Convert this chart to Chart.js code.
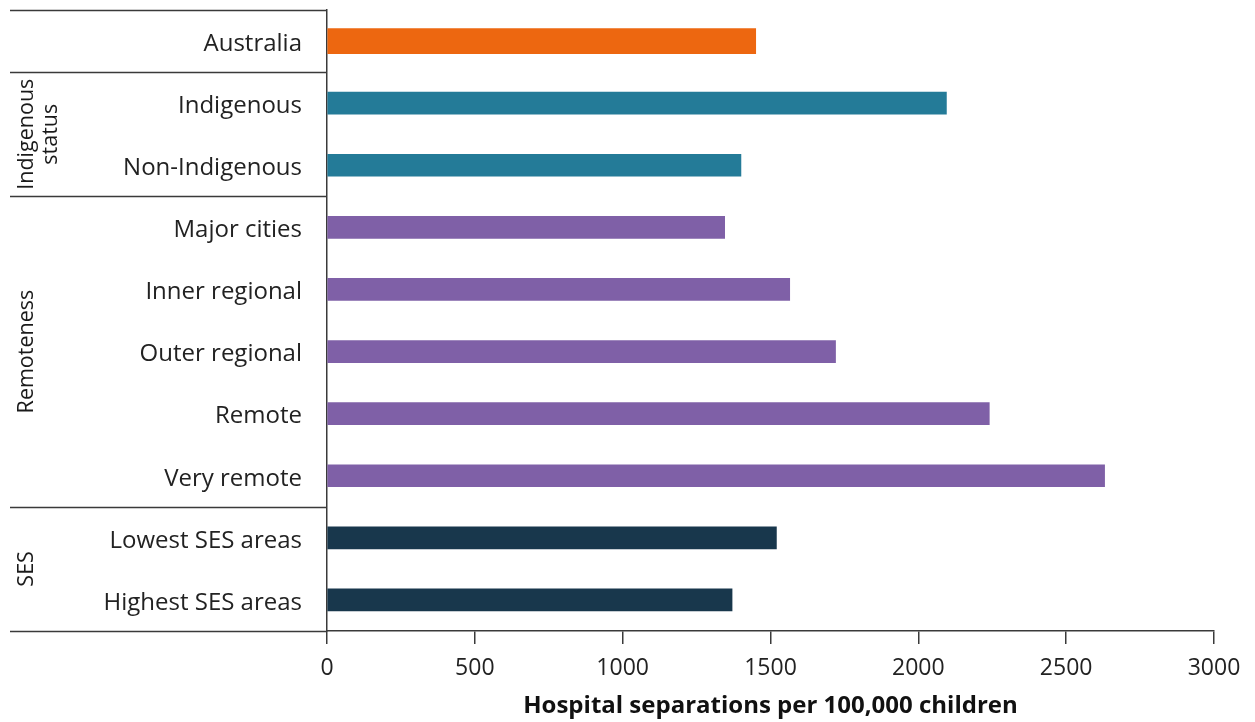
<!DOCTYPE html>
<html>
<head>
<meta charset="utf-8">
<script src="https://cdn.jsdelivr.net/npm/chart.js"></script>
<style>
  body { margin: 0; background: #fff; }
  #wrap { width: 1255px; height: 722px; position: relative; }
</style>
</head>
<body>
<div id="wrap"><canvas id="sep-chart"></canvas></div>
<script>
// hospital separations per 100,000 children, by population group

const categories = [
  "Australia", "Indigenous", "Non-Indigenous", "Major cities", "Inner regional",
  "Outer regional", "Remote", "Very remote", "Lowest SES areas", "Highest SES areas"
];
const rates = [1450, 2095, 1400, 1345, 1565, 1720, 2240, 2630, 1520, 1370];
const barColours = [
  "#ed6710", "#247b98", "#247b98", "#7f60a7", "#7f60a7",
  "#7f60a7", "#7f60a7", "#7f60a7", "#18374c", "#18374c"
];
const xTicks = [0, 500, 1000, 1500, 2000, 2500, 3000];
const axisTitle = "Hospital separations per 100,000 children";

// group brackets on the left: [label lines, first index, last index]
const groups = [
  [["Indigenous", "status"], 1, 2],
  [["Remoteness"], 3, 7],
  [["SES"], 8, 9]
];
const boundaries = [0, 1, 3, 8, 10];

const lineColour = "#3a3a3a";
const font = "'Open Sans', 'Noto Sans', sans-serif";

const groupLines = {
  id: "groupLines",
  afterDraw(chart) {
    const { ctx, chartArea, scales: { y } } = chart;
    ctx.save();
    ctx.strokeStyle = lineColour;
    ctx.lineWidth = 1.5;
    boundaries.forEach(b => {
      const py = Math.round(y.getPixelForValue(b - 0.5)) + 0.5;
      ctx.beginPath();
      ctx.moveTo(10, py);
      ctx.lineTo(chartArea.left, py);
      ctx.stroke();
    });

    ctx.fillStyle = "#1a1a1a";
    ctx.font = "21.5px " + font;
    ctx.textAlign = "center";
    ctx.textBaseline = "middle";
    groups.forEach(([lines, a, b]) => {
      const cy = (y.getPixelForValue(a - 0.5) + y.getPixelForValue(b + 0.5)) / 2;
      lines.forEach((txt, i) => {
        ctx.save();
        ctx.translate(27 + i * 24, cy);
        ctx.rotate(-Math.PI / 2);
        ctx.fillText(txt, 0, 0);
        ctx.restore();
      });
    });
    ctx.restore();
  }
};

const firstOnly = rates.map((v, i) => (i === 0 ? v : null));
const restOnly = rates.map((v, i) => (i === 0 ? null : v));

new Chart(document.getElementById("sep-chart"), {
  type: "bar",
  data: {
    labels: categories,
    datasets: [
      { data: firstOnly, backgroundColor: barColours, barThickness: 25 },
      { data: restOnly, backgroundColor: barColours, barThickness: 22 }
    ]
  },
  options: {
    indexAxis: "y",
    responsive: true,
    maintainAspectRatio: false,
    animation: false,
    layout: { padding: { top: 10, right: 41, left: 0, bottom: 0 } },
    plugins: { legend: { display: false }, tooltip: { enabled: false } },
    datasets: { bar: { grouped: false } },
    scales: {
      x: {
        min: 0,
        max: 3000,
        afterBuildTicks: s => { s.ticks = xTicks.map(v => ({ value: v })); },
        afterFit: s => { s.height = 91; s.paddingLeft = 0; s.paddingRight = 0; },
        grid: { drawOnChartArea: false, drawTicks: true, tickLength: 13, color: lineColour, lineWidth: 1.5 },
        border: { color: lineColour, width: 1.5 },
        ticks: {
          color: "#222",
          font: { family: font, size: 23 },
          padding: 11,
          maxRotation: 0,
          callback: v => String(v)
        },
        title: {
          display: true,
          text: axisTitle,
          color: "#111",
          font: { family: font, size: 24, weight: "bold" },
          padding: { top: 0, bottom: 1 }
        }
      },
      y: {
        afterFit: s => { s.width = 327; s.paddingTop = 0; s.paddingBottom = 0; },
        grid: { display: false },
        border: { color: lineColour, width: 1.5 },
        ticks: { color: "#222", font: { family: font, size: 24 }, padding: 17, labelOffset: 3 }
      }
    }
  },
  plugins: [groupLines]
});
</script>
</body>
</html>
